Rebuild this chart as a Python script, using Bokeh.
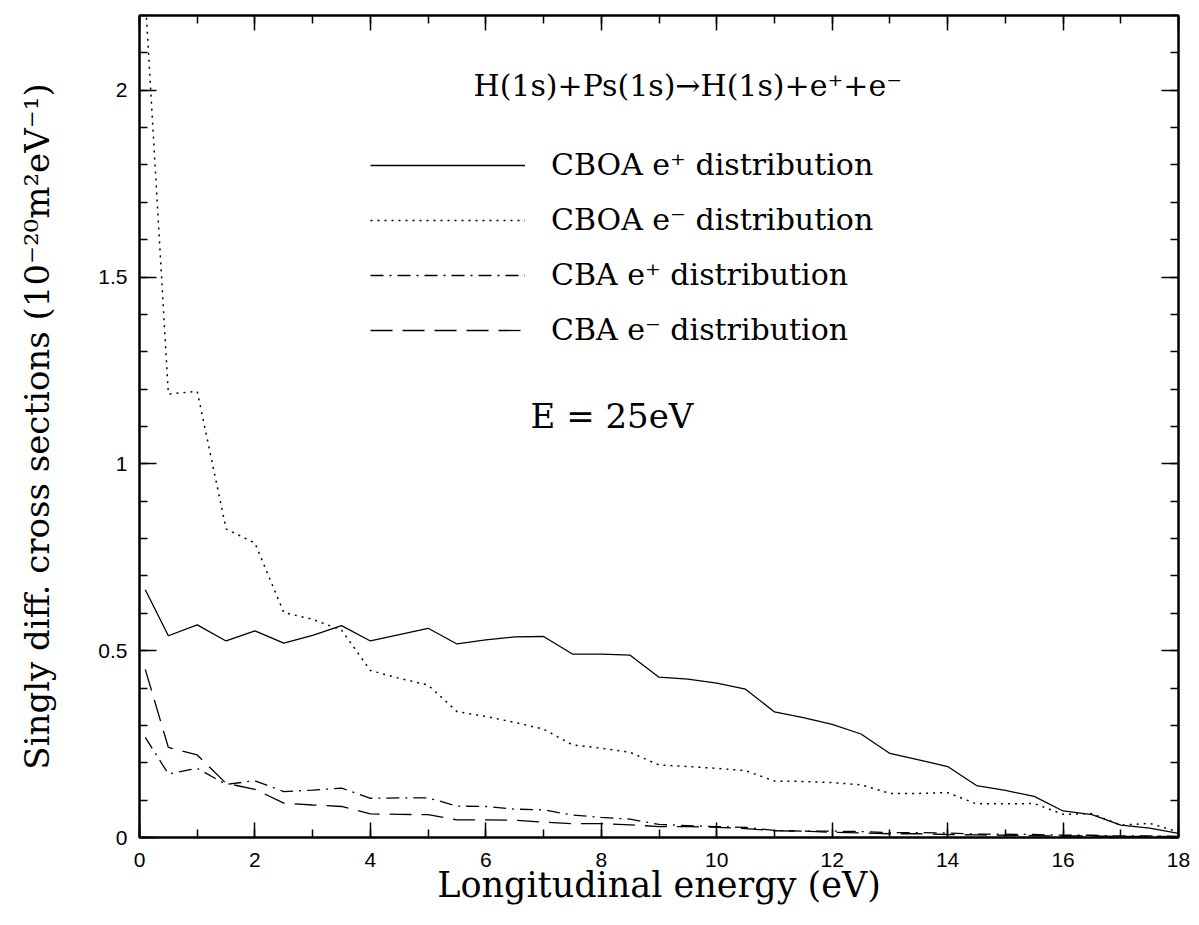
from bokeh.plotting import figure
from bokeh.models import (Range1d, LinearAxis, SingleIntervalTicker, Legend, LegendItem,
                          Label, CustomJSTickFormatter)
from bokeh.embed import file_html
from bokeh.resources import INLINE

# ---- data ----
energy = [0.1, 0.5, 1.0, 1.5, 2.0, 2.5, 3.0, 3.5, 4.0, 4.5, 5.0, 5.5, 6.0, 6.5, 7.0, 7.5,
          8.0, 8.5, 9.0, 9.5, 10.0, 10.5, 11.0, 11.5, 12.0, 12.5, 13.0, 13.5, 14.0, 14.5,
          15.0, 15.5, 16.0, 16.5, 17.0, 17.5, 18.0]

cboa_pos = [0.663, 0.540, 0.569, 0.526, 0.553, 0.520, 0.541, 0.567, 0.526, 0.543, 0.560, 0.518,
            0.529, 0.537, 0.538, 0.491, 0.491, 0.488, 0.429, 0.424, 0.413, 0.397, 0.336, 0.321,
            0.303, 0.277, 0.225, 0.208, 0.190, 0.139, 0.126, 0.110, 0.071, 0.061, 0.033, 0.025,
            0.011]

cboa_neg = [2.25, 1.187, 1.194, 0.826, 0.788, 0.602, 0.584, 0.555, 0.447, 0.426, 0.408, 0.337,
            0.324, 0.308, 0.290, 0.248, 0.239, 0.228, 0.194, 0.190, 0.185, 0.179, 0.151, 0.150,
            0.147, 0.141, 0.118, 0.118, 0.120, 0.090, 0.090, 0.091, 0.062, 0.064, 0.033, 0.038,
            0.015]

cba_pos = [0.268, 0.170, 0.185, 0.142, 0.152, 0.123, 0.127, 0.132, 0.105, 0.106, 0.106, 0.084,
           0.083, 0.076, 0.074, 0.060, 0.054, 0.049, 0.035, 0.032, 0.029, 0.027, 0.019, 0.017,
           0.017, 0.016, 0.013, 0.013, 0.012, 0.009, 0.009, 0.008, 0.006, 0.006, 0.004, 0.004,
           0.003]

cba_neg = [0.450, 0.241, 0.221, 0.145, 0.129, 0.092, 0.087, 0.083, 0.063, 0.062, 0.061, 0.047,
           0.047, 0.046, 0.041, 0.037, 0.037, 0.034, 0.029, 0.029, 0.027, 0.024, 0.018, 0.017,
           0.014, 0.012, 0.010, 0.010, 0.008, 0.007, 0.006, 0.005, 0.004, 0.004, 0.003, 0.003,
           0.002]

series_labels = ["CBOA e\u207a distribution", "CBOA e\u207b distribution",
                 "CBA e\u207a distribution", "CBA e\u207b distribution"]
title_text = "H(1s)+Ps(1s)\u2192H(1s)+e\u207a+e\u207b"
energy_text = "E  =  25eV"
x_label = "Longitudinal energy (eV)"
y_label = "Singly diff. cross sections (10\u207b\u00b2\u2070m\u00b2eV\u207b\u00b9)"

SERIF = "DejaVu Serif"
SANS = "Liberation Sans"

p = figure(width=1199, height=925, x_range=Range1d(0, 18), y_range=Range1d(0, 2.2),
           output_backend="svg", toolbar_location=None,
           min_border_left=139, min_border_right=21, min_border_top=15, min_border_bottom=88)
p.grid.visible = False
p.outline_line_color = "black"
p.outline_line_width = 2
p.background_fill_color = "white"
p.border_fill_color = "white"

fmt = CustomJSTickFormatter(code="return String(Math.round(tick*10)/10);")
blank_fmt = CustomJSTickFormatter(code="return '';")

def style_axis(ax, major_len, minor_len, show_labels):
    ax.axis_line_width = 2
    ax.axis_line_color = "black"
    ax.major_tick_in = major_len
    ax.major_tick_out = 0
    ax.minor_tick_in = minor_len
    ax.minor_tick_out = 0
    ax.major_tick_line_width = 1.5
    ax.minor_tick_line_width = 1.5
    ax.major_tick_line_color = "black"
    ax.minor_tick_line_color = "black"
    if show_labels:
        ax.major_label_text_font = SANS
        ax.major_label_text_font_size = "21px"
        ax.major_label_text_font_style = "normal"
        ax.major_label_text_color = "black"
        ax.formatter = fmt
    else:
        ax.formatter = blank_fmt
        ax.major_label_standoff = 0

xax = p.xaxis[0]
xax.ticker = SingleIntervalTicker(interval=2, num_minor_ticks=2)
style_axis(xax, 15, 8, True)
xax.major_label_standoff = 15
xax.axis_label = x_label
xax.axis_label_text_font = SERIF
xax.axis_label_text_font_style = "normal"
xax.axis_label_text_font_size = "35px"
xax.axis_label_text_color = "black"
xax.axis_label_standoff = -5

yax = p.yaxis[0]
yax.ticker = SingleIntervalTicker(interval=0.5, num_minor_ticks=5)
style_axis(yax, 17, 8, True)
yax.major_label_standoff = 12
yax.axis_label = y_label
yax.axis_label_text_font = SERIF
yax.axis_label_text_font_style = "normal"
yax.axis_label_text_font_size = "34px"
yax.axis_label_text_color = "black"
yax.axis_label_standoff = 38

top_ax = LinearAxis(ticker=SingleIntervalTicker(interval=2, num_minor_ticks=2))
style_axis(top_ax, 15, 8, False)
p.add_layout(top_ax, "above")
right_ax = LinearAxis(ticker=SingleIntervalTicker(interval=0.5, num_minor_ticks=5))
style_axis(right_ax, 17, 8, False)
p.add_layout(right_ax, "right")

r1 = p.line(energy, cboa_pos, line_color="black", line_width=1.3)
r2 = p.line(energy, cboa_neg, line_color="black", line_width=1.5, line_dash="2 5")
r3 = p.line(energy, cba_pos, line_color="black", line_width=1.3, line_dash="13 6 2 6")
r4 = p.line(energy, cba_neg, line_color="black", line_width=1.3, line_dash="22 10")

legend = Legend(items=[LegendItem(label=series_labels[0], renderers=[r1]),
                       LegendItem(label=series_labels[1], renderers=[r2]),
                       LegendItem(label=series_labels[2], renderers=[r3]),
                       LegendItem(label=series_labels[3], renderers=[r4])],
                location=(231, 490), orientation="vertical",
                glyph_width=155, glyph_height=20, label_standoff=26, label_height=20,
                spacing=20, padding=0, margin=0,
                border_line_alpha=0, background_fill_alpha=0,
                label_text_font=SERIF, label_text_font_size="30px", label_text_color="black")
p.add_layout(legend, "center")

p.add_layout(Label(x=334, y=752, x_units="screen", y_units="screen", text=title_text,
                   text_font=SERIF, text_font_size="30px", text_color="black",
                   text_baseline="middle", text_align="left"))
p.add_layout(Label(x=391, y=422, x_units="screen", y_units="screen", text=energy_text,
                   text_font=SERIF, text_font_size="34px", text_color="black",
                   text_baseline="middle", text_align="left"))

open("out.html", "w").write(file_html(p, INLINE))
